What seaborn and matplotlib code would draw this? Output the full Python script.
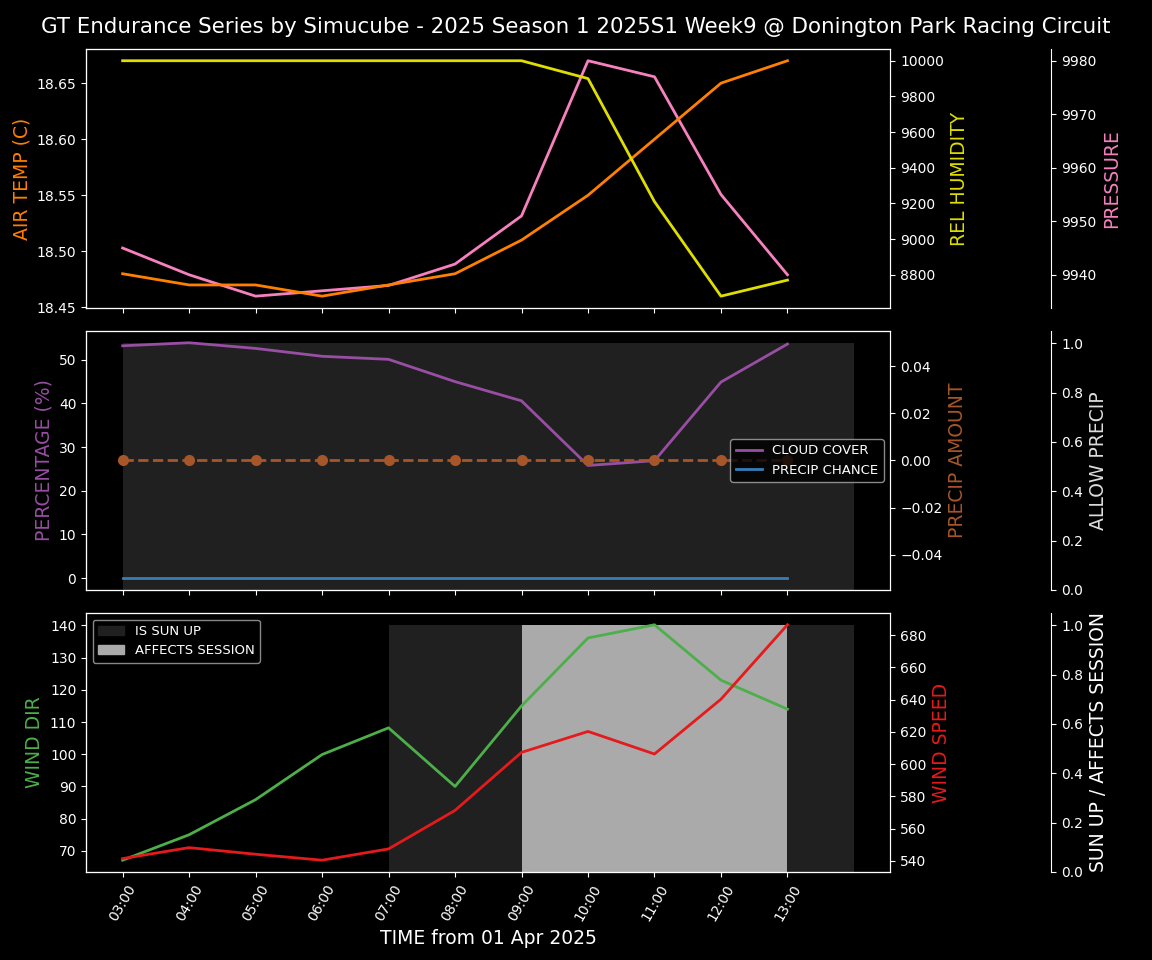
import pandas as pd
import matplotlib.pyplot as plt
import matplotlib.dates as mdates
from matplotlib.patches import Patch
from matplotlib.lines import Line2D
import seaborn as sns

# === Data ===
hours = ["03:00", "04:00", "05:00", "06:00", "07:00", "08:00", "09:00", "10:00", "11:00", "12:00", "13:00"]
flag_hours = hours + ["14:00"]

air_temp = [18.48, 18.47, 18.47, 18.46, 18.47, 18.48, 18.51, 18.55, 18.60, 18.65, 18.67]
rel_humidity = [10000, 10000, 10000, 10000, 10000, 10000, 10000, 9900, 9210, 8680, 8770]
pressure = [9945, 9940, 9936, 9937, 9938, 9942, 9951, 9980, 9977, 9955, 9940]

cloud_cover = [53.2, 53.9, 52.6, 50.8, 50.1, 45.0, 40.6, 25.8, 26.9, 44.9, 53.6]
precip_chance = [0, 0, 0, 0, 0, 0, 0, 0, 0, 0, 0]
precip_amount = [0, 0, 0, 0, 0, 0, 0, 0, 0, 0, 0]
allow_precip = [1, 1, 1, 1, 1, 1, 1, 1, 1, 1, 1, 1]

wind_dir = [67.1, 75.0, 85.9, 99.9, 108.2, 90.0, 115.0, 136.1, 140.2, 123.0, 114.0]
wind_speed = [541.4, 548.2, 544.1, 540.4, 547.4, 571.3, 607.3, 620.3, 606.3, 640.3, 686.5]
sun_up = [0, 0, 0, 0, 1, 1, 1, 1, 1, 1, 1, 1]
affects_session = [0, 0, 0, 0, 0, 0, 1, 1, 1, 1, 0, 0]

# === Build frames ===
t = pd.to_datetime(["2025-04-01 " + h for h in hours])
tf = pd.to_datetime(["2025-04-01 " + h for h in flag_hours])
df = pd.DataFrame({"time": t, "air_temp": air_temp, "rel_humidity": rel_humidity,
                   "pressure": pressure, "cloud_cover": cloud_cover,
                   "precip_chance": precip_chance, "precip_amount": precip_amount,
                   "wind_dir": wind_dir, "wind_speed": wind_speed})
flags = pd.DataFrame({"time": tf, "allow_precip": allow_precip,
                      "sun_up": sun_up, "affects_session": affects_session})

# colours
c_temp = "#ff7f00"
c_hum = "#dede00"
c_press = "#f781bf"
c_cloud = "#984ea3"
c_chance = "#377eb8"
c_amount = "#a65628"
c_dir = "#4daf4a"
c_speed = "#e41a1c"
c_dark = "#202020"
c_light = "#aaaaaa"
lab_fs = 13.5

plt.style.use("dark_background")
fig, axes = plt.subplots(3, 1, figsize=(11.52, 9.6), dpi=100, sharex=True)
fig.subplots_adjust(left=0.0747, right=0.773, top=0.949, bottom=0.0917, hspace=0.089)
fig.suptitle("GT Endurance Series by Simucube - 2025 Season 1 2025S1 Week9 @ Donington Park Racing Circuit",
             fontsize=15.4, y=0.982)


def make_twins(ax):
    ax3 = ax.twinx()
    ax3.spines["right"].set_position(("axes", 1.2))
    ax2 = ax.twinx()
    ax3.set_zorder(0)
    ax.set_zorder(1)
    ax2.set_zorder(2)
    ax.patch.set_visible(False)
    ax2.patch.set_visible(False)
    return ax2, ax3


# === Panel 1: temperature / humidity / pressure ===
ax = axes[0]
ax2, ax3 = make_twins(ax)
sns.lineplot(data=df, x="time", y="air_temp", ax=ax, color=c_temp, linewidth=2)
sns.lineplot(data=df, x="time", y="rel_humidity", ax=ax2, color=c_hum, linewidth=2)
sns.lineplot(data=df, x="time", y="pressure", ax=ax3, color=c_press, linewidth=2)
ax.set_ylabel("AIR TEMP (C)", color=c_temp, fontsize=lab_fs)
ax2.set_ylabel("REL HUMIDITY", color=c_hum, fontsize=lab_fs)
ax3.set_ylabel("PRESSURE", color=c_press, fontsize=lab_fs)
ax.set_xlabel("")
ax.yaxis.set_major_formatter(plt.FormatStrFormatter("%.2f"))

# === Panel 2: clouds / precip ===
ax = axes[1]
ax2, ax3 = make_twins(ax)
ax3.fill_between(flags["time"], 0, flags["allow_precip"], step="post", color=c_dark, linewidth=0)
ax3.set_ylim(0, 1.05)
sns.lineplot(data=df, x="time", y="cloud_cover", ax=ax, color=c_cloud, linewidth=2)
sns.lineplot(data=df, x="time", y="precip_chance", ax=ax, color=c_chance, linewidth=2)
sns.lineplot(data=df, x="time", y="precip_amount", ax=ax2, color=c_amount, linewidth=2,
             linestyle="--", marker="o", markersize=8, markeredgewidth=0)
ax.set_ylabel("PERCENTAGE (%)", color=c_cloud, fontsize=lab_fs)
ax2.set_ylabel("PRECIP AMOUNT", color=c_amount, fontsize=lab_fs)
ax3.set_ylabel("ALLOW PRECIP", color="#dddddd", fontsize=lab_fs)
ax.set_xlabel("")
handles = [Line2D([], [], color=c_cloud, linewidth=2), Line2D([], [], color=c_chance, linewidth=2)]
ax2.legend(handles, ["CLOUD COVER", "PRECIP CHANCE"], loc="center right", fontsize=9.5,
           facecolor="black", edgecolor="#aaaaaa")

# === Panel 3: wind / sun ===
ax = axes[2]
ax2, ax3 = make_twins(ax)
ax3.fill_between(flags["time"], 0, flags["sun_up"], step="post", color=c_dark, linewidth=0)
ax3.fill_between(flags["time"], 0, flags["affects_session"], step="post", color=c_light, linewidth=0)
ax3.set_ylim(0, 1.05)
sns.lineplot(data=df, x="time", y="wind_dir", ax=ax, color=c_dir, linewidth=2)
sns.lineplot(data=df, x="time", y="wind_speed", ax=ax2, color=c_speed, linewidth=2)
ax.set_ylabel("WIND DIR", color=c_dir, fontsize=lab_fs)
ax2.set_ylabel("WIND SPEED", color=c_speed, fontsize=lab_fs)
ax3.set_ylabel("SUN UP / AFFECTS SESSION", color="white", fontsize=lab_fs)
ax.set_xlabel("TIME from 01 Apr 2025", fontsize=13.5)
ax.legend([Patch(color=c_dark), Patch(color=c_light)], ["IS SUN UP", "AFFECTS SESSION"],
          loc="upper left", fontsize=9.5, facecolor="black", edgecolor="#aaaaaa")

for a in axes:
    a.set_xticks(t)
    a.xaxis.set_major_formatter(mdates.DateFormatter("%H:%M"))
    a.tick_params(axis="x", rotation=60)

fig.savefig("out.png", dpi=100, facecolor="black")
